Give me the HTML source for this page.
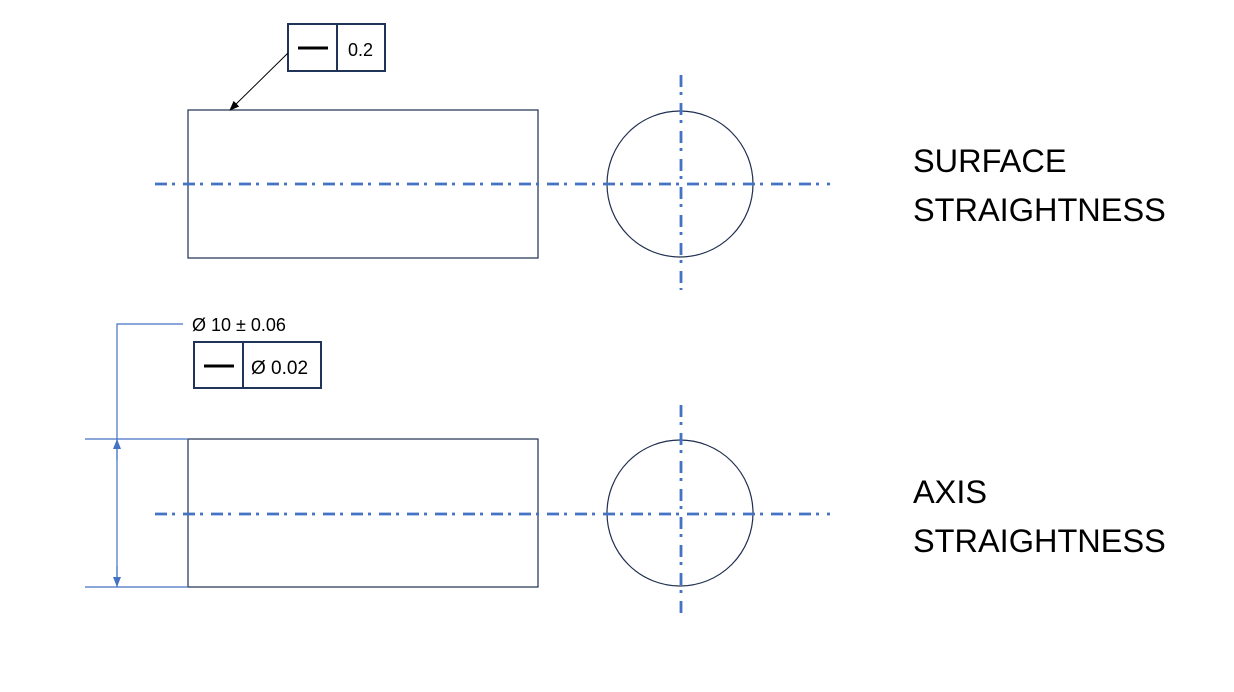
<!DOCTYPE html>
<html><head><meta charset="utf-8"><style>
html,body{margin:0;padding:0;background:#fff;width:1234px;height:692px;overflow:hidden}
svg text{font-family:"Liberation Sans",sans-serif}
</style></head><body>
<svg width="1234" height="692" viewBox="0 0 1234 692" xmlns="http://www.w3.org/2000/svg">
<defs>
<marker id="ab" markerWidth="10" markerHeight="10" refX="9" refY="5" orient="auto" markerUnits="userSpaceOnUse"><path d="M0,1 L10,5 L0,9 z" fill="#000"/></marker>
<marker id="ablue" markerWidth="10" markerHeight="10" refX="9" refY="5" orient="auto" markerUnits="userSpaceOnUse"><path d="M0,1 L10,5 L0,9 z" fill="#4472c4"/></marker>
</defs>
<g fill="none" stroke="#1f2f4f" stroke-width="1.2">
<rect x="188" y="110" width="350" height="148"/>
<rect x="188" y="439" width="350" height="148"/>
<circle cx="680" cy="184" r="73"/>
<circle cx="680" cy="513" r="73"/>
</g>
<g stroke="#4472c4" stroke-width="2.8" stroke-dasharray="12 5 3 8" fill="none">
<line x1="155" y1="184" x2="830" y2="184"/>
<line x1="681" y1="75" x2="681" y2="290"/>
<line x1="155" y1="514" x2="830" y2="514"/>
<line x1="681" y1="405" x2="681" y2="618"/>
</g>
<g stroke="#1f3458" stroke-width="2" fill="#fff">
<rect x="288" y="24" width="97" height="47"/>
<line x1="337" y1="24" x2="337" y2="71"/>
<rect x="194" y="342" width="127" height="46"/>
<line x1="243" y1="342" x2="243" y2="388"/>
</g>
<line x1="298" y1="48" x2="328" y2="48" stroke="#000" stroke-width="3"/>
<line x1="204" y1="366" x2="234" y2="366" stroke="#000" stroke-width="3"/>
<text x="348" y="56" font-size="18" fill="#000">0.2</text>
<text x="251" y="374" font-size="19" fill="#000">Ø 0.02</text>
<text x="192" y="331" font-size="18" fill="#000">Ø 10 ± 0.06</text>
<line x1="288" y1="53" x2="230" y2="110" stroke="#000" stroke-width="1" marker-end="url(#ab)"/>
<g stroke="#4472c4" stroke-width="1.2" fill="none">
<polyline points="183,324 117,324 117,587"/>
<line x1="85" y1="439" x2="188" y2="439"/>
<line x1="85" y1="587" x2="188" y2="587"/>
<line x1="117" y1="460" x2="117" y2="440" marker-end="url(#ablue)"/>
<line x1="117" y1="566" x2="117" y2="586" marker-end="url(#ablue)"/>
</g>
<g font-size="32.5" fill="#000">
<text x="913" y="172">SURFACE</text>
<text x="913" y="221">STRAIGHTNESS</text>
<text x="913" y="503">AXIS</text>
<text x="913" y="552">STRAIGHTNESS</text>
</g>
</svg>
</body></html>
